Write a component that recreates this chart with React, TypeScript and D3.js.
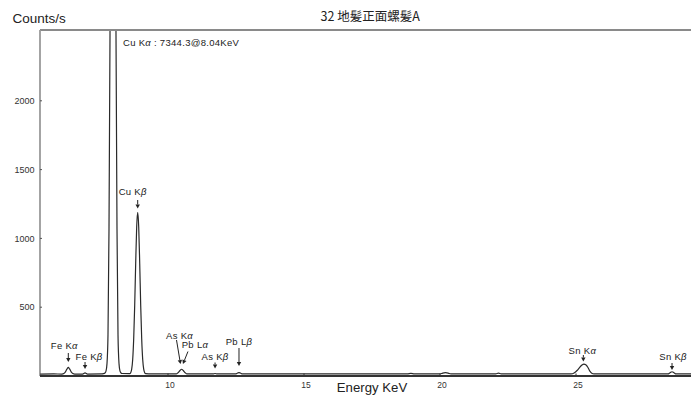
import React from "react";
import * as d3 from "d3";

// ---- data ----
const energies = [
  5.3, 5.8, 6.1, 6.17, 6.23, 6.29, 6.335, 6.38, 6.44, 6.5, 6.57, 6.86, 6.95, 7.04,
  7.55, 7.62, 7.683, 7.72, 7.757, 7.794, 7.831, 7.868, 7.904, 7.941, 7.978, 8.015,
  8.052, 8.088, 8.125, 8.162, 8.199, 8.236, 8.273, 8.31,
  8.592, 8.628, 8.665, 8.702, 8.739, 8.776, 8.812, 8.849, 8.886, 8.923, 8.96, 8.996,
  9.033, 9.07, 9.107, 9.144, 9.18, 9.4,
  10.3, 10.37, 10.44, 10.5, 10.56, 10.63, 10.7,
  11.65, 11.73, 11.81,
  12.48, 12.56, 12.61, 12.66, 12.74,
  18.8, 18.93, 19.06,
  20.0, 20.1, 20.2, 20.3, 20.4,
  22.05, 22.15, 22.25,
  24.82, 24.93, 25.04, 25.15, 25.22, 25.29, 25.36, 25.44, 25.51, 25.58, 25.66,
  28.38, 28.46, 28.53, 28.6, 28.68, 29.3,
];
const counts = [
  14, 15, 14, 18, 30, 52, 62, 52, 30, 18, 14, 14, 22, 14,
  15, 17, 22, 35, 90, 300, 1070, 2490, 4540, 6510, 7344, 6510,
  4540, 2490, 1070, 300, 90, 35, 22, 18,
  17, 24, 50, 120, 270, 515, 820, 1085, 1190, 1085, 820, 515,
  270, 120, 50, 24, 17, 15,
  15, 24, 40, 49, 40, 24, 15,
  15, 18, 15,
  15, 22, 25, 22, 15,
  15, 19, 15,
  15, 21, 24, 21, 15,
  15, 21, 15,
  15, 22, 40, 66, 80, 87, 82, 62, 35, 20, 15,
  15, 24, 31, 24, 15, 15,
];

const xTicks = [10, 15, 20, 25];
const yTicks = [500, 1000, 1500, 2000];

const title = "32 地髪正面螺髪A";
const yTitle = "Counts/s";
const xTitle = "Energy KeV";
const cuKaNote = { prefix: "Cu K", greek: "α", suffix: " : 7344.3@8.04KeV" };

// annotations: element, line greek letter, energy of line
const annElements = ["Fe K", "Fe K", "Cu K", "As K", "Pb L", "As K", "Pb L", "Sn K", "Sn K"];
const annGreek = ["α", "β", "β", "α", "α", "β", "β", "α", "β"];
const annEnergy = [6.335, 6.95, 8.886, 10.46, 10.55, 11.73, 12.61, 25.27, 28.53];

// layout of annotations (pixel offsets: text dx, text baseline, arrow top, arrow bottom, arrow top dx)
const annLayout = [
  { dx: -4, ty: 349, a0: 353, a1: 362, adx: 0 },
  { dx: 4, ty: 359.5, a0: 362, a1: 369, adx: 0 },
  { dx: -5, ty: 194.5, a0: 200, a1: 208.5, adx: 0 },
  { dx: -1, ty: 338.5, a0: 340, a1: 364, adx: -4 },
  { dx: 12, ty: 348, a0: 351.5, a1: 364, adx: 5 },
  { dx: 0, ty: 359.5, a0: 362.5, a1: 368.5, adx: 0 },
  { dx: 0, ty: 345, a0: 348, a1: 366, adx: 0 },
  { dx: -1, ty: 354, a0: 355, a1: 361.5, adx: 0 },
  { dx: 1, ty: 360, a0: 363, a1: 370, adx: 0 },
];

export default function App() {
  const W = 691;
  const H = 398;
  const left = 40;
  const right = 691;
  const top = 30;
  const bottom = 376;

  const x = d3.scaleLinear().domain([10, 25]).range([168, 576]);
  const xLeft = x.invert(left);
  const xRight = x.invert(right);
  const y = d3.scaleLinear().domain([0, 2000]).range([bottom, 100.8]);

  const pts = energies.map((e, i) => [e, counts[i]] as [number, number]);
  const line = d3
    .line<[number, number]>()
    .x((d) => x(d[0]))
    .y((d) => y(d[1]))
    .curve(d3.curveMonotoneX);

  const sans = "'Liberation Sans', Arial, sans-serif";
  const cjk = "'Noto Sans CJK JP', 'Liberation Sans', sans-serif";

  return (
    <svg
      width={W}
      height={H}
      style={{ position: "absolute", left: 0, top: 0, background: "#fff" }}
      xmlns="http://www.w3.org/2000/svg"
    >
      <defs>
        <clipPath id="plotclip">
          <rect x={left} y={top + 1} width={right - left} height={bottom - top} />
        </clipPath>
      </defs>
      <rect x={0} y={0} width={W} height={H} fill="#fff" />

      {/* titles */}
      <text x={12.5} y={23} fontFamily={sans} fontSize={13.5} fill="#222">
        {yTitle}
      </text>
      <text x={320.5} y={20.5} fontFamily={cjk} fontSize={12.5} fill="#222">
        {title}
      </text>

      {/* frame */}
      <line x1={left} x2={right} y1={top} y2={top} stroke="#8a8a8a" strokeWidth={1.8} />
      <line x1={left} x2={left} y1={top} y2={bottom} stroke="#9a9a9a" strokeWidth={1.8} />

      {/* spectrum */}
      <g clipPath="url(#plotclip)">
        <path
          d={line(pts.filter((p) => p[0] >= xLeft - 0.1 && p[0] <= xRight + 0.5)) || ""}
          fill="none"
          stroke="#2a2a2a"
          strokeWidth={1.2}
        />
      </g>

      {/* x axis */}
      <line x1={left} x2={right} y1={bottom} y2={bottom} stroke="#333" strokeWidth={1.8} />
      {xTicks.map((t) => (
        <g key={t}>
          <line x1={x(t)} x2={x(t)} y1={bottom - 2.5} y2={bottom} stroke="#333" strokeWidth={1} />
          <text
            x={x(t) + 2}
            y={388}
            fontFamily={sans}
            fontSize={8.5}
            textAnchor="middle"
            fill="#333"
          >
            {t}
          </text>
        </g>
      ))}
      <text x={372} y={392} fontFamily={sans} fontSize={13.2} textAnchor="middle" fill="#222">
        {xTitle}
      </text>

      {/* y axis */}
      {yTicks.map((t) => (
        <g key={t}>
          <line x1={left} x2={left + 2} y1={y(t)} y2={y(t)} stroke="#555" strokeWidth={1} />
          <text
            x={34.5}
            y={y(t) + 3.2}
            fontFamily={sans}
            fontSize={9}
            textAnchor="end"
            fill="#333"
          >
            {t}
          </text>
        </g>
      ))}

      {/* Cu K alpha note */}
      <text x={123} y={45.5} fontFamily={sans} fontSize={9.5} letterSpacing={0.3} fill="#222">
        {cuKaNote.prefix}
        <tspan fontStyle="italic">{cuKaNote.greek}</tspan>
        {cuKaNote.suffix}
      </text>

      {/* annotations */}
      {annElements.map((el, i) => {
        const L = annLayout[i];
        const ax = x(annEnergy[i]);
        const tx = ax + L.dx;
        const x0 = ax + L.adx;
        const ang = Math.atan2(L.a1 - L.a0, ax - x0);
        const hl = 4;
        const hw = 2.2;
        const bx = ax - hl * Math.cos(ang);
        const by = L.a1 - hl * Math.sin(ang);
        const px = -Math.sin(ang) * hw;
        const py = Math.cos(ang) * hw;
        return (
          <g key={i}>
            <text
              x={tx}
              y={L.ty}
              fontFamily={sans}
              fontSize={9.5}
              letterSpacing={0.3}
              textAnchor="middle"
              fill="#222"
            >
              {el}
              <tspan fontStyle="italic">{annGreek[i]}</tspan>
            </text>
            <line x1={x0} y1={L.a0} x2={bx} y2={by} stroke="#222" strokeWidth={1} />
            <polygon
              points={`${ax},${L.a1} ${bx + px},${by + py} ${bx - px},${by - py}`}
              fill="#222"
            />
          </g>
        );
      })}
    </svg>
  );
}
